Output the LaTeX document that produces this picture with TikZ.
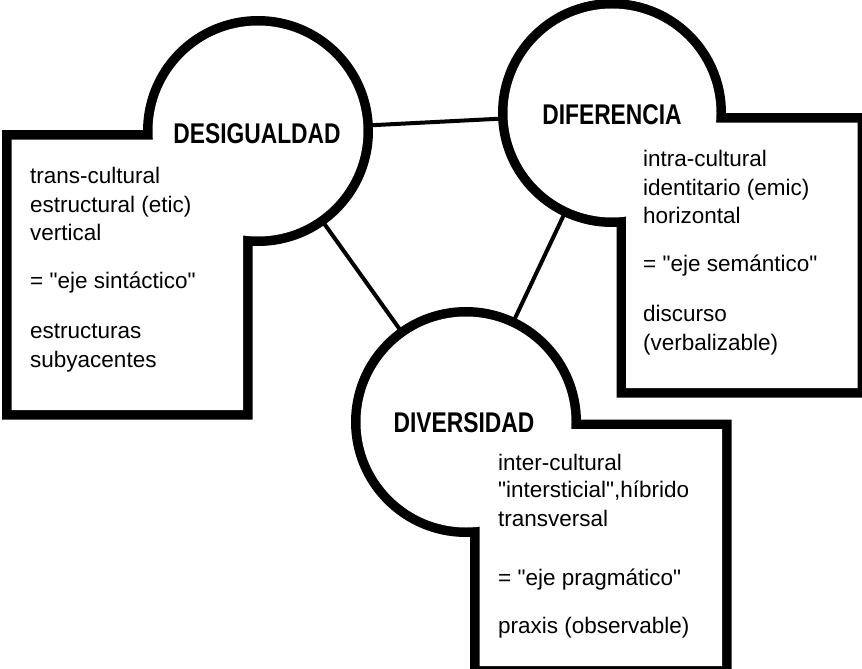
\documentclass[tikz,border=0pt]{standalone}
\usepackage{fontspec}
\setmainfont{Liberation Sans}[Ligatures=TeXOff]
\newfontfamily\labelfont[FakeStretch=0.8]{Liberation Sans}
\begin{document}
\begin{tikzpicture}[x=1pt,y=-1pt,
  hub/.style={circle, inner sep=0pt, outer sep=0pt, minimum size=#1},
  link/.style={line width=4pt},
  rim/.style={line width=19pt, line join=miter},
  blank/.style={fill=white},
  title/.style={inner sep=0pt, font=\labelfont\bfseries\fontsize{28.5}{30}\selectfont},
  body/.style={anchor=base west, inner sep=0pt, font=\fontsize{22.5}{27}\selectfont}
]
\useasboundingbox (0,0) rectangle (862,669);

% hubs (circles)
\node[hub=211pt] (des) at (258,131) {};
\node[hub=209pt] (dif) at (612,113) {};
\node[hub=211pt] (div) at (466,422) {};

% panel corners
\coordinate (b1a) at (11.5,139.5);  \coordinate (b1b) at (243,410);
\coordinate (b2a) at (626,122.5);   \coordinate (b2b) at (857.5,388);
\coordinate (b3a) at (479.5,429);   \coordinate (b3b) at (722,666);

% connectors
\draw[link] (des) -- (dif);
\draw[link] (des) -- (div);
\draw[link] (dif) -- (div);

% outlines (union of circle and panel)
\draw[rim] (des.center) circle[radius=105.5pt] (b1a) rectangle (b1b);
\fill[blank] (des.center) circle[radius=105.5pt] (b1a) rectangle (b1b);
\draw[rim] (dif.center) circle[radius=104.5pt] (b2a) rectangle (b2b);
\fill[blank] (dif.center) circle[radius=104.5pt] (b2a) rectangle (b2b);
\draw[rim] (div.center) circle[radius=105.5pt] (b3a) rectangle (b3b);
\fill[blank] (div.center) circle[radius=105.5pt] (b3a) rectangle (b3b);

% titles
\node[title] (destitle) at (257,134) {DESIGUALDAD};
\node[title] (diftitle) at (612,115) {DIFERENCIA};
\node[title] (divtitle) at (464,423) {DIVERSIDAD};

% texts
\foreach \yy/\tt [count=\i] in {183/trans-cultural, 212/estructural (etic), 240/vertical,
  288/{= "eje sintáctico"}, 338/estructuras, 367/subyacentes}
  \node[body] (dest\i) at (30,\yy) {\tt};
\foreach \yy/\tt [count=\i] in {166/intra-cultural, 195/identitario (emic), 223/horizontal,
  271/{= "eje semántico"}, 321/discurso, 350/(verbalizable)}
  \node[body] (dift\i) at (643,\yy) {\tt};
\foreach \yy/\tt [count=\i] in {470/inter-cultural, 497/{"intersticial",híbrido}, 526/transversal,
  585/{= "eje pragmático"}, 633/praxis (observable)}
  \node[body] (divt\i) at (498,\yy) {\tt};
\end{tikzpicture}
\end{document}
